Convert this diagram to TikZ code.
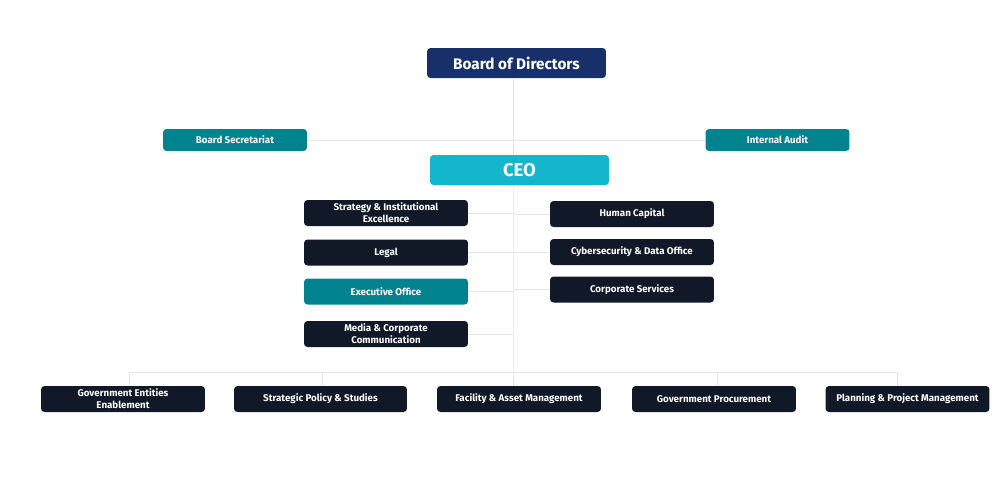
\documentclass[tikz,border=0pt]{standalone}
\usepackage{fontspec}
\setmainfont{Fira Sans}
\usepackage{xcolor}
\usetikzlibrary{positioning}
\definecolor{boardblue}{HTML}{17306A}
\definecolor{ceocyan}{HTML}{13B6CC}
\definecolor{unitteal}{HTML}{00838F}
\definecolor{unitdark}{HTML}{111827}
\definecolor{linkgray}{HTML}{E6E6E6}
\tikzstyle{unit}=[rectangle, rounded corners=2pt, fill=unitdark, text=white, align=center, inner sep=1pt,
  minimum width=3.28cm, minimum height=0.52cm, font=\fontsize{5.55}{6.8}\selectfont\bfseries]
\tikzstyle{side}=[unit, fill=unitteal, minimum width=2.88cm, minimum height=0.44cm]
\tikzstyle{top}=[unit, minimum width=3.58cm, minimum height=0.6cm]
\tikzstyle{link}=[draw=linkgray, line width=0.5pt]

\begin{document}
\begin{tikzpicture}[x=0.02cm,y=-0.02cm]
    \useasboundingbox (0,0) rectangle (1000,488);
    \fill[white] (0,0) rectangle (1000,488);
    \coordinate (spine) at (513,372);

    \node[top, fill=boardblue, font=\fontsize{8.7}{9}\selectfont\bfseries] (board) at (516.5,63) {Board of Directors};
    \node[side] (bsec) at (235,140) {Board Secretariat};
    \node[side] (audit) at (777.5,140) {Internal Audit};
    \node[top, fill=ceocyan, font=\fontsize{10.5}{11}\selectfont\bfseries] (ceo) at (519.5,170) {CEO};

    \node[unit] (strat) at (386,213) {Strategy \& Institutional\\Excellence};
    \node[unit] (legal) at (386,252.5) {Legal};
    \node[unit, fill=unitteal] (exec) at (386,291.5) {Executive Office};
    \node[unit] (media) at (386,334) {Media \& Corporate\\Communication};

    \node[unit] (hcap) at (632,214) {Human Capital};
    \node[unit] (cyber) at (632,252) {Cybersecurity \& Data Office};
    \node[unit] (corp) at (632,289.5) {Corporate Services};

    \node[unit] (gee) at (123,399) {Government Entities\\Enablement};
    \node[unit, minimum width=3.46cm] (sps) at (320.5,399) {Strategic Policy \& Studies};
    \node[unit] (fam) at (519,399) {Facility \& Asset Management};
    \node[unit] (gp) at (714,399) {Government Procurement};
    \node[unit] (ppm) at (907.5,399) {Planning \& Project Management};

    \draw[link] (board.south -| spine) -- (ceo.north -| spine);
    \draw[link] (ceo.south -| spine) -- (spine) -- (fam.north -| spine);
    \draw[link] (bsec.east) -- (audit.west);
    \foreach \n in {strat, legal, exec, media}
        \draw[link] (\n.east) -- (\n.east -| spine);
    \foreach \n in {hcap, cyber, corp}
        \draw[link] (\n.west) -- (\n.west -| spine);
    \draw[link] (129,372) -- (897,372);
    \foreach \n/\x in {gee/129, sps/322, gp/717, ppm/897}
        \draw[link] (\x,372) -- (\n.north -| \x,372);
  \end{tikzpicture}
\end{document}
